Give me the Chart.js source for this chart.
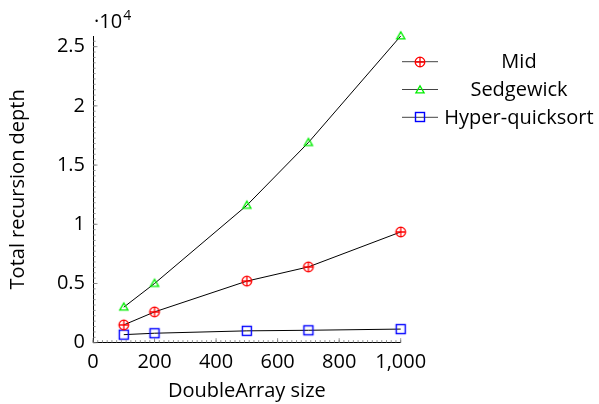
<!DOCTYPE html>
<html lang="en">
  <head>
    <meta charset="UTF-8" />
    <title>Total recursion depth</title>
    <script src="https://cdn.jsdelivr.net/npm/chart.js"></script>
    <style>
      html, body { margin: 0; padding: 0; background: #fff; }
      #wrap { width: 599px; height: 404px; }
    </style>
  </head>
  <body>
    <div id="wrap"><canvas id="myChart" width="599" height="404"></canvas></div>
  </body>
  <script>
    const arraySizes = [100, 200, 500, 700, 1000];
    const midDepth = [1500, 2600, 5200, 6400, 9350];
    const sedgewickDepth = [3000, 5000, 11600, 16900, 25900];
    const hyperDepth = [680, 800, 1000, 1050, 1150];
    const seriesNames = ["Mid", "Sedgewick", "Hyper-quicksort"];
    const xTickValues = [0, 200, 400, 600, 800, 1000];
    const yTickValues = [0, 5000, 10000, 15000, 20000, 25000];

    const FONT = "'Open Sans', 'Liberation Sans', sans-serif";

    // marker images (pgfplots style: oplus, triangle, square)
    function makeMarker(kind) {
      const c = document.createElement("canvas");
      c.width = 14;
      c.height = 14;
      const g = c.getContext("2d");
      g.lineWidth = 1.3;
      if (kind === "oplus") {
        g.strokeStyle = "#ff0000";
        g.beginPath();
        g.arc(7, 7, 4.8, 0, Math.PI * 2);
        g.moveTo(2.2, 7);
        g.lineTo(11.8, 7);
        g.moveTo(7, 2.2);
        g.lineTo(7, 11.8);
        g.stroke();
      } else if (kind === "triangle") {
        g.strokeStyle = "#00ee00";
        g.beginPath();
        g.moveTo(7, 2.8);
        g.lineTo(2.9, 9.8);
        g.lineTo(11.1, 9.8);
        g.closePath();
        g.stroke();
      } else {
        g.strokeStyle = "#0000ff";
        g.lineWidth = 1.4;
        g.strokeRect(2.5, 2.5, 9, 9);
      }
      return c;
    }
    const markers = [makeMarker("oplus"), makeMarker("triangle"), makeMarker("square")];

    const toPoints = (ys) => arraySizes.map((x, i) => ({ x: x, y: ys[i] }));

    // inward major/minor ticks, the 10^4 factor and the legend
    const decorations = {
      id: "decorations",
      afterDraw(chart) {
        const ctx = chart.ctx;
        const xs = chart.scales.x;
        const ys = chart.scales.y;
        const area = chart.chartArea;
        ctx.save();
        ctx.strokeStyle = "#777";
        ctx.lineWidth = 0.8;
        ctx.beginPath();
        const xMinorStep = 200 / 13;
        for (let v = 0; v <= 1000 + 0.01; v += xMinorStep) {
          const px = xs.getPixelForValue(v);
          ctx.moveTo(px, area.bottom);
          ctx.lineTo(px, area.bottom - 2.6);
        }
        xTickValues.forEach((v) => {
          const px = xs.getPixelForValue(v);
          ctx.moveTo(px, area.bottom);
          ctx.lineTo(px, area.bottom - 4.5);
        });
        const yMinorStep = 5000 / 11;
        for (let v = 0; v <= 25900; v += yMinorStep) {
          const py = ys.getPixelForValue(v);
          ctx.moveTo(area.left, py);
          ctx.lineTo(area.left + 2.6, py);
        }
        yTickValues.forEach((v) => {
          const py = ys.getPixelForValue(v);
          ctx.moveTo(area.left, py);
          ctx.lineTo(area.left + 4.5, py);
        });
        ctx.stroke();

        // scale factor
        ctx.fillStyle = "#000";
        ctx.textBaseline = "alphabetic";
        ctx.textAlign = "left";
        ctx.font = "20px " + FONT;
        ctx.fillText("\u00b710", 94, 28);
        const w = ctx.measureText("\u00b710").width;
        ctx.font = "14px " + FONT;
        ctx.fillText("4", 94 + w + 1, 20);

        // legend
        ctx.font = "20px " + FONT;
        ctx.textAlign = "center";
        ctx.textBaseline = "middle";
        seriesNames.forEach((name, i) => {
          const y = 61.7 + i * 27.8;
          ctx.strokeStyle = "#444";
          ctx.lineWidth = 1;
          ctx.beginPath();
          ctx.moveTo(402, y);
          ctx.lineTo(438, y);
          ctx.stroke();
          ctx.drawImage(markers[i], 420 - 7, Math.round(y) - 7);
          ctx.fillStyle = "#000";
          ctx.fillText(name, 519, y + 1);
        });
        ctx.restore();
      },
    };

    const makeSet = (label, ys, i) => ({
      label: label,
      data: toPoints(ys),
      borderColor: "#000",
      borderWidth: 1,
      pointStyle: markers[i],
      pointRadius: 5,
      pointHoverRadius: 5,
      fill: false,
      tension: 0,
      clip: false,
    });

    const ctx = document.getElementById("myChart");
    const myChart = new Chart(ctx, {
      type: "line",
      data: {
        datasets: [
          makeSet(seriesNames[0], midDepth, 0),
          makeSet(seriesNames[1], sedgewickDepth, 1),
          makeSet(seriesNames[2], hyperDepth, 2),
        ],
      },
      plugins: [decorations],
      options: {
        responsive: false,
        animation: false,
        events: [],
        layout: { padding: { left: 0, top: 36, right: 198.3, bottom: 0 } },
        plugins: { legend: { display: false }, tooltip: { enabled: false } },
        scales: {
          x: {
            type: "linear",
            min: 0,
            max: 1000,
            grid: { display: false, drawTicks: false },
            border: { display: true, color: "#000", width: 1 },
            afterBuildTicks: (scale) => {
              scale.ticks = xTickValues.map((v) => ({ value: v }));
            },
            afterFit: (scale) => {
              scale.height = 61.3;
            },
            ticks: {
              color: "#000",
              padding: 8,
              maxRotation: 0,
              font: { family: FONT, size: 20 },
              callback: (v) => v.toLocaleString("en-US"),
            },
            title: {
              display: true,
              text: "DoubleArray size",
              color: "#000",
              font: { family: FONT, size: 20 },
              padding: { top: 0, bottom: 0.5 },
            },
          },
          y: {
            type: "linear",
            min: 0,
            max: 25900,
            grid: { display: false, drawTicks: false },
            border: { display: true, color: "#000", width: 1 },
            afterBuildTicks: (scale) => {
              scale.ticks = yTickValues.map((v) => ({ value: v }));
            },
            afterFit: (scale) => {
              scale.width = 93;
            },
            ticks: {
              color: "#000",
              padding: 8,
              font: { family: FONT, size: 20 },
              callback: (v) => String(v / 10000),
            },
            title: {
              display: true,
              text: "Total recursion depth",
              color: "#000",
              font: { family: FONT, size: 20 },
              padding: { top: 6, bottom: 0 },
            },
          },
        },
      },
    });
  </script>
</html>
